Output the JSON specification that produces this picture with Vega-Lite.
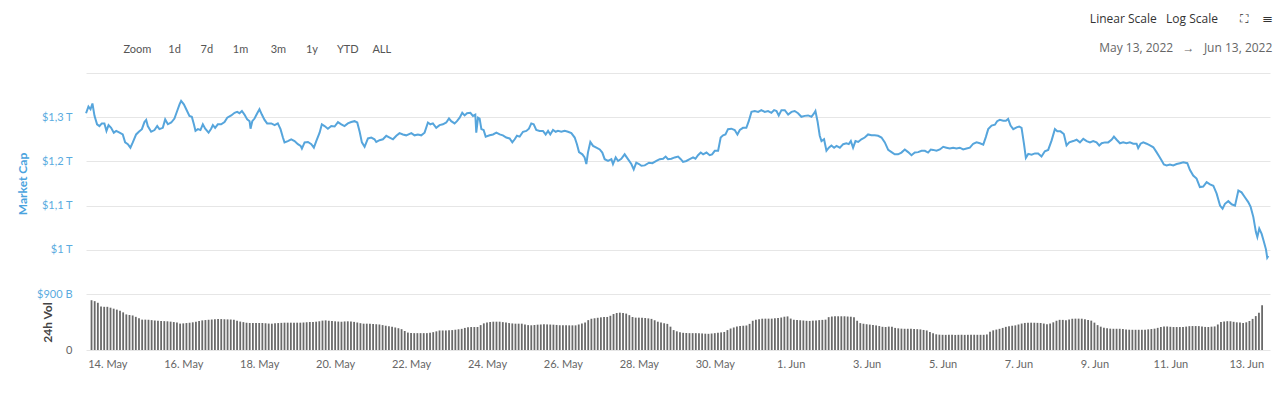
{
"$schema": "https://vega.github.io/schema/vega-lite/v6.json",
"background": "white",
"padding": {"left": 16, "top": 13, "right": 8, "bottom": 5},
"spacing": 0,
"bounds": "flush",
"title": {"text": "Linear Scale\u00a0\u00a0\u00a0Log Scale\u00a0\u00a0\u00a0\u00a0\u00a0\u00a0\u00a0⛶\u00a0\u00a0\u00a0\u00a0\u00a0☰", "subtitle": "May 13, 2022\u00a0\u00a0\u00a0→\u00a0\u00a0\u00a0Jun 13, 2022\u00a0\u00a0", "anchor": "end", "font": "Open Sans", "subtitleFont": "Open Sans", "fontSize": 12, "fontWeight": "normal", "color": "#333333", "subtitleColor": "#666666", "subtitleFontSize": 12, "subtitlePadding": 17, "offset": -12},
"datasets": {
"mc": [
{"t":"2022-05-13T13:42","v":1309},{"t":"2022-05-13T15:12","v":1324},{"t":"2022-05-13T16:30","v":1318},{"t":"2022-05-13T17:42","v":1331},{"t":"2022-05-13T19:00","v":1303},{"t":"2022-05-13T20:36","v":1284},{"t":"2022-05-13T22:06","v":1280},{"t":"2022-05-13T23:36","v":1286},
{"t":"2022-05-14T01:12","v":1286},{"t":"2022-05-14T02:30","v":1269},{"t":"2022-05-14T03:48","v":1282},{"t":"2022-05-14T05:24","v":1276},{"t":"2022-05-14T07:06","v":1265},{"t":"2022-05-14T08:36","v":1269},{"t":"2022-05-14T10:42","v":1265},{"t":"2022-05-14T12:42","v":1261},{"t":"2022-05-14T14:12","v":1243},{"t":"2022-05-14T15:54","v":1239},{"t":"2022-05-14T17:30","v":1231},{"t":"2022-05-14T19:00","v":1243},{"t":"2022-05-14T21:06","v":1261},{"t":"2022-05-14T22:48","v":1267},
{"t":"2022-05-15T00:42","v":1273},{"t":"2022-05-15T02:18","v":1289},{"t":"2022-05-15T03:24","v":1294},{"t":"2022-05-15T04:24","v":1280},{"t":"2022-05-15T06:30","v":1267},{"t":"2022-05-15T08:36","v":1271},{"t":"2022-05-15T10:18","v":1280},{"t":"2022-05-15T11:42","v":1273},{"t":"2022-05-15T13:48","v":1276},{"t":"2022-05-15T15:18","v":1295},{"t":"2022-05-15T17:00","v":1284},{"t":"2022-05-15T19:06","v":1288},{"t":"2022-05-15T21:06","v":1297},{"t":"2022-05-15T22:48","v":1314},
{"t":"2022-05-16T00:18","v":1329},{"t":"2022-05-16T01:18","v":1337},{"t":"2022-05-16T03:00","v":1329},{"t":"2022-05-16T04:30","v":1318},{"t":"2022-05-16T06:30","v":1303},{"t":"2022-05-16T08:00","v":1301},{"t":"2022-05-16T09:18","v":1284},{"t":"2022-05-16T10:18","v":1269},{"t":"2022-05-16T11:48","v":1273},{"t":"2022-05-16T13:24","v":1271},{"t":"2022-05-16T14:54","v":1284},{"t":"2022-05-16T16:24","v":1274},{"t":"2022-05-16T18:30","v":1265},{"t":"2022-05-16T20:06","v":1274},{"t":"2022-05-16T21:12","v":1282},{"t":"2022-05-16T22:36","v":1276},
{"t":"2022-05-17T00:18","v":1284},{"t":"2022-05-17T02:24","v":1284},{"t":"2022-05-17T04:30","v":1289},{"t":"2022-05-17T06:12","v":1299},{"t":"2022-05-17T08:42","v":1304},{"t":"2022-05-17T10:48","v":1310},{"t":"2022-05-17T12:24","v":1312},{"t":"2022-05-17T13:54","v":1309},{"t":"2022-05-17T15:24","v":1314},{"t":"2022-05-17T17:00","v":1306},{"t":"2022-05-17T18:42","v":1295},{"t":"2022-05-17T20:12","v":1291},{"t":"2022-05-17T20:48","v":1274},{"t":"2022-05-17T21:54","v":1291},{"t":"2022-05-17T23:18","v":1297},
{"t":"2022-05-18T01:00","v":1309},{"t":"2022-05-18T02:24","v":1318},{"t":"2022-05-18T03:54","v":1306},{"t":"2022-05-18T05:36","v":1294},{"t":"2022-05-18T07:12","v":1286},{"t":"2022-05-18T09:48","v":1286},{"t":"2022-05-18T11:54","v":1282},{"t":"2022-05-18T13:54","v":1286},{"t":"2022-05-18T15:36","v":1273},{"t":"2022-05-18T17:06","v":1254},{"t":"2022-05-18T18:06","v":1243},{"t":"2022-05-18T20:12","v":1246},{"t":"2022-05-18T22:18","v":1250},
{"t":"2022-05-19T00:24","v":1246},{"t":"2022-05-19T02:30","v":1239},{"t":"2022-05-19T04:12","v":1235},{"t":"2022-05-19T05:00","v":1229},{"t":"2022-05-19T06:42","v":1243},{"t":"2022-05-19T08:48","v":1244},{"t":"2022-05-19T10:54","v":1239},{"t":"2022-05-19T12:30","v":1231},{"t":"2022-05-19T14:00","v":1246},{"t":"2022-05-19T16:06","v":1265},{"t":"2022-05-19T17:30","v":1284},{"t":"2022-05-19T19:12","v":1280},{"t":"2022-05-19T21:18","v":1274},{"t":"2022-05-19T23:24","v":1280},
{"t":"2022-05-20T01:30","v":1279},{"t":"2022-05-20T03:36","v":1289},{"t":"2022-05-20T05:42","v":1284},{"t":"2022-05-20T07:42","v":1280},{"t":"2022-05-20T09:48","v":1286},{"t":"2022-05-20T11:54","v":1289},{"t":"2022-05-20T14:00","v":1291},{"t":"2022-05-20T15:42","v":1288},{"t":"2022-05-20T17:12","v":1267},{"t":"2022-05-20T18:36","v":1243},{"t":"2022-05-20T20:18","v":1233},{"t":"2022-05-20T22:24","v":1252},
{"t":"2022-05-21T00:30","v":1254},{"t":"2022-05-21T02:30","v":1250},{"t":"2022-05-21T03:36","v":1244},{"t":"2022-05-21T05:42","v":1248},{"t":"2022-05-21T07:48","v":1250},{"t":"2022-05-21T09:54","v":1258},{"t":"2022-05-21T12:00","v":1254},{"t":"2022-05-21T14:06","v":1250},{"t":"2022-05-21T16:12","v":1258},{"t":"2022-05-21T18:12","v":1264},{"t":"2022-05-21T20:18","v":1261},{"t":"2022-05-21T22:24","v":1259},
{"t":"2022-05-22T01:36","v":1264},{"t":"2022-05-22T03:36","v":1259},{"t":"2022-05-22T05:42","v":1261},{"t":"2022-05-22T07:48","v":1259},{"t":"2022-05-22T09:54","v":1265},{"t":"2022-05-22T12:00","v":1288},{"t":"2022-05-22T13:30","v":1284},{"t":"2022-05-22T15:06","v":1286},{"t":"2022-05-22T17:12","v":1276},{"t":"2022-05-22T19:18","v":1282},{"t":"2022-05-22T21:24","v":1284},{"t":"2022-05-22T23:30","v":1288},
{"t":"2022-05-23T01:12","v":1297},{"t":"2022-05-23T02:36","v":1291},{"t":"2022-05-23T04:42","v":1286},{"t":"2022-05-23T06:12","v":1291},{"t":"2022-05-23T07:54","v":1299},{"t":"2022-05-23T09:30","v":1310},{"t":"2022-05-23T11:00","v":1304},{"t":"2022-05-23T12:30","v":1309},{"t":"2022-05-23T14:36","v":1310},{"t":"2022-05-23T16:12","v":1303},{"t":"2022-05-23T17:42","v":1306},{"t":"2022-05-23T18:18","v":1265},{"t":"2022-05-23T19:24","v":1299},{"t":"2022-05-23T20:24","v":1297},{"t":"2022-05-23T21:30","v":1273},{"t":"2022-05-23T22:54","v":1271},
{"t":"2022-05-24T00:12","v":1256},{"t":"2022-05-24T02:42","v":1259},{"t":"2022-05-24T04:48","v":1261},{"t":"2022-05-24T06:54","v":1265},{"t":"2022-05-24T09:00","v":1261},{"t":"2022-05-24T11:00","v":1259},{"t":"2022-05-24T13:06","v":1254},{"t":"2022-05-24T15:12","v":1252},{"t":"2022-05-24T16:54","v":1243},{"t":"2022-05-24T18:24","v":1250},{"t":"2022-05-24T19:48","v":1258},{"t":"2022-05-24T21:30","v":1256},{"t":"2022-05-24T23:36","v":1267},
{"t":"2022-05-25T01:42","v":1269},{"t":"2022-05-25T03:18","v":1274},{"t":"2022-05-25T04:48","v":1286},{"t":"2022-05-25T06:18","v":1284},{"t":"2022-05-25T07:54","v":1271},{"t":"2022-05-25T10:00","v":1269},{"t":"2022-05-25T12:06","v":1269},{"t":"2022-05-25T13:48","v":1261},{"t":"2022-05-25T15:18","v":1269},{"t":"2022-05-25T16:42","v":1261},{"t":"2022-05-25T18:24","v":1271},{"t":"2022-05-25T20:06","v":1267},{"t":"2022-05-25T21:30","v":1269},{"t":"2022-05-25T23:36","v":1267},
{"t":"2022-05-26T01:42","v":1269},{"t":"2022-05-26T03:48","v":1267},{"t":"2022-05-26T05:54","v":1264},{"t":"2022-05-26T08:00","v":1254},{"t":"2022-05-26T09:24","v":1239},{"t":"2022-05-26T10:42","v":1221},{"t":"2022-05-26T12:48","v":1216},{"t":"2022-05-26T14:12","v":1209},{"t":"2022-05-26T15:18","v":1194},{"t":"2022-05-26T16:18","v":1220},{"t":"2022-05-26T17:48","v":1244},{"t":"2022-05-26T19:30","v":1235},{"t":"2022-05-26T21:36","v":1231},{"t":"2022-05-26T23:42","v":1227},
{"t":"2022-05-27T01:18","v":1220},{"t":"2022-05-27T02:48","v":1205},{"t":"2022-05-27T04:54","v":1201},{"t":"2022-05-27T07:00","v":1205},{"t":"2022-05-27T08:00","v":1194},{"t":"2022-05-27T09:42","v":1209},{"t":"2022-05-27T11:12","v":1201},{"t":"2022-05-27T13:12","v":1206},{"t":"2022-05-27T15:18","v":1216},{"t":"2022-05-27T17:24","v":1205},{"t":"2022-05-27T19:30","v":1194},{"t":"2022-05-27T21:00","v":1182},{"t":"2022-05-27T22:36","v":1197},
{"t":"2022-05-28T00:18","v":1194},{"t":"2022-05-28T01:48","v":1190},{"t":"2022-05-28T03:54","v":1191},{"t":"2022-05-28T06:36","v":1197},{"t":"2022-05-28T08:42","v":1196},{"t":"2022-05-28T11:12","v":1201},{"t":"2022-05-28T13:18","v":1205},{"t":"2022-05-28T15:24","v":1206},{"t":"2022-05-28T17:00","v":1211},{"t":"2022-05-28T18:30","v":1205},{"t":"2022-05-28T20:36","v":1206},{"t":"2022-05-28T22:42","v":1209},
{"t":"2022-05-29T00:48","v":1211},{"t":"2022-05-29T02:30","v":1205},{"t":"2022-05-29T03:54","v":1199},{"t":"2022-05-29T06:00","v":1201},{"t":"2022-05-29T08:06","v":1205},{"t":"2022-05-29T10:12","v":1209},{"t":"2022-05-29T11:42","v":1206},{"t":"2022-05-29T13:18","v":1214},{"t":"2022-05-29T15:00","v":1220},{"t":"2022-05-29T16:30","v":1216},{"t":"2022-05-29T18:36","v":1220},{"t":"2022-05-29T20:36","v":1214},{"t":"2022-05-29T22:06","v":1216},{"t":"2022-05-29T23:48","v":1224},
{"t":"2022-05-30T01:54","v":1224},{"t":"2022-05-30T03:30","v":1254},{"t":"2022-05-30T05:00","v":1259},{"t":"2022-05-30T06:30","v":1261},{"t":"2022-05-30T08:06","v":1273},{"t":"2022-05-30T10:12","v":1274},{"t":"2022-05-30T12:18","v":1271},{"t":"2022-05-30T14:00","v":1261},{"t":"2022-05-30T15:30","v":1271},{"t":"2022-05-30T17:30","v":1276},{"t":"2022-05-30T19:36","v":1276},{"t":"2022-05-30T21:06","v":1291},{"t":"2022-05-30T22:48","v":1312},
{"t":"2022-05-31T00:54","v":1314},{"t":"2022-05-31T03:00","v":1312},{"t":"2022-05-31T05:00","v":1316},{"t":"2022-05-31T07:06","v":1312},{"t":"2022-05-31T09:12","v":1314},{"t":"2022-05-31T11:18","v":1310},{"t":"2022-05-31T13:00","v":1316},{"t":"2022-05-31T14:30","v":1314},{"t":"2022-05-31T15:54","v":1304},{"t":"2022-05-31T17:36","v":1316},{"t":"2022-05-31T19:42","v":1316},{"t":"2022-05-31T21:48","v":1306},{"t":"2022-05-31T23:54","v":1312},
{"t":"2022-06-01T01:54","v":1314},{"t":"2022-06-01T04:00","v":1309},{"t":"2022-06-01T06:06","v":1301},{"t":"2022-06-01T08:12","v":1303},{"t":"2022-06-01T10:18","v":1304},{"t":"2022-06-01T12:24","v":1301},{"t":"2022-06-01T14:06","v":1309},{"t":"2022-06-01T14:54","v":1314},{"t":"2022-06-01T16:12","v":1291},{"t":"2022-06-01T17:36","v":1258},{"t":"2022-06-01T18:42","v":1246},{"t":"2022-06-01T20:18","v":1250},{"t":"2022-06-01T21:48","v":1224},{"t":"2022-06-01T23:18","v":1231},
{"t":"2022-06-02T00:54","v":1236},{"t":"2022-06-02T02:36","v":1231},{"t":"2022-06-02T04:06","v":1235},{"t":"2022-06-02T06:12","v":1231},{"t":"2022-06-02T08:18","v":1239},{"t":"2022-06-02T10:18","v":1241},{"t":"2022-06-02T11:48","v":1239},{"t":"2022-06-02T13:06","v":1246},{"t":"2022-06-02T14:30","v":1231},{"t":"2022-06-02T16:00","v":1246},{"t":"2022-06-02T17:42","v":1244},{"t":"2022-06-02T19:42","v":1250},{"t":"2022-06-02T21:48","v":1254},{"t":"2022-06-02T23:54","v":1261},
{"t":"2022-06-03T02:00","v":1259},{"t":"2022-06-03T04:06","v":1259},{"t":"2022-06-03T06:12","v":1258},{"t":"2022-06-03T08:18","v":1254},{"t":"2022-06-03T10:24","v":1243},{"t":"2022-06-03T12:30","v":1226},{"t":"2022-06-03T14:36","v":1221},{"t":"2022-06-03T16:36","v":1216},{"t":"2022-06-03T18:42","v":1216},{"t":"2022-06-03T20:48","v":1220},{"t":"2022-06-03T22:54","v":1227},
{"t":"2022-06-04T01:00","v":1221},{"t":"2022-06-04T03:06","v":1214},{"t":"2022-06-04T05:12","v":1220},{"t":"2022-06-04T07:18","v":1221},{"t":"2022-06-04T09:24","v":1224},{"t":"2022-06-04T11:30","v":1224},{"t":"2022-06-04T13:30","v":1220},{"t":"2022-06-04T15:12","v":1227},{"t":"2022-06-04T16:42","v":1226},{"t":"2022-06-04T18:48","v":1224},{"t":"2022-06-04T20:54","v":1227},{"t":"2022-06-04T23:00","v":1233},
{"t":"2022-06-05T01:00","v":1231},{"t":"2022-06-05T03:06","v":1229},{"t":"2022-06-05T05:12","v":1231},{"t":"2022-06-05T07:18","v":1229},{"t":"2022-06-05T09:24","v":1231},{"t":"2022-06-05T11:30","v":1227},{"t":"2022-06-05T13:36","v":1229},{"t":"2022-06-05T15:42","v":1231},{"t":"2022-06-05T17:48","v":1240},{"t":"2022-06-05T19:54","v":1243},{"t":"2022-06-05T22:00","v":1241},
{"t":"2022-06-06T00:06","v":1238},{"t":"2022-06-06T01:42","v":1255},{"t":"2022-06-06T03:12","v":1273},{"t":"2022-06-06T05:18","v":1281},{"t":"2022-06-06T07:24","v":1283},{"t":"2022-06-06T08:48","v":1291},{"t":"2022-06-06T10:30","v":1294},{"t":"2022-06-06T12:36","v":1292},{"t":"2022-06-06T14:18","v":1292},{"t":"2022-06-06T15:42","v":1296},{"t":"2022-06-06T17:12","v":1281},{"t":"2022-06-06T18:54","v":1273},{"t":"2022-06-06T21:00","v":1277},{"t":"2022-06-06T22:36","v":1279},
{"t":"2022-06-07T00:06","v":1276},{"t":"2022-06-07T01:36","v":1240},{"t":"2022-06-07T02:48","v":1208},{"t":"2022-06-07T04:18","v":1217},{"t":"2022-06-07T06:24","v":1215},{"t":"2022-06-07T08:30","v":1218},{"t":"2022-06-07T10:30","v":1218},{"t":"2022-06-07T12:36","v":1211},{"t":"2022-06-07T14:42","v":1223},{"t":"2022-06-07T16:48","v":1226},{"t":"2022-06-07T18:54","v":1247},{"t":"2022-06-07T21:00","v":1273},{"t":"2022-06-07T22:30","v":1268},
{"t":"2022-06-08T00:30","v":1268},{"t":"2022-06-08T02:36","v":1262},{"t":"2022-06-08T04:18","v":1236},{"t":"2022-06-08T06:00","v":1243},{"t":"2022-06-08T08:30","v":1246},{"t":"2022-06-08T10:36","v":1249},{"t":"2022-06-08T12:42","v":1243},{"t":"2022-06-08T14:48","v":1251},{"t":"2022-06-08T16:54","v":1246},{"t":"2022-06-08T19:00","v":1243},{"t":"2022-06-08T21:00","v":1246},{"t":"2022-06-08T23:06","v":1243},
{"t":"2022-06-09T00:48","v":1236},{"t":"2022-06-09T02:18","v":1241},{"t":"2022-06-09T04:24","v":1243},{"t":"2022-06-09T06:24","v":1243},{"t":"2022-06-09T08:30","v":1249},{"t":"2022-06-09T10:00","v":1256},{"t":"2022-06-09T11:42","v":1249},{"t":"2022-06-09T13:48","v":1241},{"t":"2022-06-09T15:48","v":1243},{"t":"2022-06-09T17:54","v":1241},{"t":"2022-06-09T20:00","v":1243},{"t":"2022-06-09T22:06","v":1240},
{"t":"2022-06-10T00:12","v":1240},{"t":"2022-06-10T01:12","v":1230},{"t":"2022-06-10T02:42","v":1240},{"t":"2022-06-10T04:24","v":1243},{"t":"2022-06-10T06:30","v":1240},{"t":"2022-06-10T08:36","v":1236},{"t":"2022-06-10T10:42","v":1232},{"t":"2022-06-10T12:42","v":1221},{"t":"2022-06-10T14:24","v":1211},{"t":"2022-06-10T15:54","v":1202},{"t":"2022-06-10T17:18","v":1193},{"t":"2022-06-10T19:00","v":1191},{"t":"2022-06-10T21:06","v":1193},{"t":"2022-06-10T23:12","v":1191},
{"t":"2022-06-11T01:18","v":1194},{"t":"2022-06-11T03:24","v":1196},{"t":"2022-06-11T05:30","v":1198},{"t":"2022-06-11T08:00","v":1196},{"t":"2022-06-11T09:36","v":1181},{"t":"2022-06-11T11:42","v":1168},{"t":"2022-06-11T13:48","v":1161},{"t":"2022-06-11T15:54","v":1142},{"t":"2022-06-11T18:00","v":1143},{"t":"2022-06-11T20:06","v":1153},{"t":"2022-06-11T22:12","v":1148},
{"t":"2022-06-12T00:18","v":1145},{"t":"2022-06-12T02:24","v":1127},{"t":"2022-06-12T04:30","v":1100},{"t":"2022-06-12T06:06","v":1093},{"t":"2022-06-12T07:36","v":1104},{"t":"2022-06-12T09:42","v":1110},{"t":"2022-06-12T11:48","v":1103},{"t":"2022-06-12T13:54","v":1100},{"t":"2022-06-12T16:00","v":1134},{"t":"2022-06-12T18:00","v":1130},{"t":"2022-06-12T20:06","v":1119},{"t":"2022-06-12T22:12","v":1108},{"t":"2022-06-12T23:42","v":1097},
{"t":"2022-06-13T01:24","v":1074},{"t":"2022-06-13T03:00","v":1040},{"t":"2022-06-13T03:54","v":1029},{"t":"2022-06-13T05:06","v":1048},{"t":"2022-06-13T06:36","v":1036},{"t":"2022-06-13T08:00","v":1018},{"t":"2022-06-13T09:18","v":1001},{"t":"2022-06-13T10:06","v":982},{"t":"2022-06-13T10:48","v":986}
],
"vol": [
{"t":"2022-05-13T14:00","v":800},{"t":"2022-05-13T16:00","v":785},{"t":"2022-05-13T18:00","v":759},{"t":"2022-05-13T20:00","v":700},{"t":"2022-05-13T22:00","v":694},
{"t":"2022-05-14T00:00","v":694},{"t":"2022-05-14T02:00","v":680},{"t":"2022-05-14T04:00","v":664},{"t":"2022-05-14T06:00","v":649},{"t":"2022-05-14T08:00","v":630},{"t":"2022-05-14T10:00","v":605},{"t":"2022-05-14T12:00","v":572},{"t":"2022-05-14T14:00","v":563},{"t":"2022-05-14T16:00","v":555},{"t":"2022-05-14T18:00","v":533},{"t":"2022-05-14T20:00","v":510},{"t":"2022-05-14T22:00","v":488},
{"t":"2022-05-15T00:00","v":488},{"t":"2022-05-15T02:00","v":486},{"t":"2022-05-15T04:00","v":480},{"t":"2022-05-15T06:00","v":474},{"t":"2022-05-15T08:00","v":470},{"t":"2022-05-15T10:00","v":466},{"t":"2022-05-15T12:00","v":464},{"t":"2022-05-15T14:00","v":461},{"t":"2022-05-15T16:00","v":456},{"t":"2022-05-15T18:00","v":449},{"t":"2022-05-15T20:00","v":440},{"t":"2022-05-15T22:00","v":424},
{"t":"2022-05-16T00:00","v":428},{"t":"2022-05-16T02:00","v":433},{"t":"2022-05-16T04:00","v":438},{"t":"2022-05-16T06:00","v":445},{"t":"2022-05-16T08:00","v":453},{"t":"2022-05-16T10:00","v":465},{"t":"2022-05-16T12:00","v":476},{"t":"2022-05-16T14:00","v":481},{"t":"2022-05-16T16:00","v":486},{"t":"2022-05-16T18:00","v":490},{"t":"2022-05-16T20:00","v":495},{"t":"2022-05-16T22:00","v":499},
{"t":"2022-05-17T00:00","v":497},{"t":"2022-05-17T02:00","v":494},{"t":"2022-05-17T04:00","v":492},{"t":"2022-05-17T06:00","v":490},{"t":"2022-05-17T08:00","v":486},{"t":"2022-05-17T10:00","v":470},{"t":"2022-05-17T12:00","v":457},{"t":"2022-05-17T14:00","v":448},{"t":"2022-05-17T16:00","v":438},{"t":"2022-05-17T18:00","v":434},{"t":"2022-05-17T20:00","v":434},{"t":"2022-05-17T22:00","v":434},
{"t":"2022-05-18T00:00","v":434},{"t":"2022-05-18T02:00","v":434},{"t":"2022-05-18T04:00","v":430},{"t":"2022-05-18T06:00","v":425},{"t":"2022-05-18T08:00","v":423},{"t":"2022-05-18T10:00","v":428},{"t":"2022-05-18T12:00","v":433},{"t":"2022-05-18T14:00","v":436},{"t":"2022-05-18T16:00","v":439},{"t":"2022-05-18T18:00","v":439},{"t":"2022-05-18T20:00","v":439},{"t":"2022-05-18T22:00","v":439},
{"t":"2022-05-19T00:00","v":439},{"t":"2022-05-19T02:00","v":439},{"t":"2022-05-19T04:00","v":442},{"t":"2022-05-19T06:00","v":446},{"t":"2022-05-19T08:00","v":450},{"t":"2022-05-19T10:00","v":452},{"t":"2022-05-19T12:00","v":455},{"t":"2022-05-19T14:00","v":462},{"t":"2022-05-19T16:00","v":472},{"t":"2022-05-19T18:00","v":476},{"t":"2022-05-19T20:00","v":470},{"t":"2022-05-19T22:00","v":466},
{"t":"2022-05-20T00:00","v":461},{"t":"2022-05-20T02:00","v":457},{"t":"2022-05-20T04:00","v":456},{"t":"2022-05-20T06:00","v":459},{"t":"2022-05-20T08:00","v":461},{"t":"2022-05-20T10:00","v":457},{"t":"2022-05-20T12:00","v":452},{"t":"2022-05-20T14:00","v":442},{"t":"2022-05-20T16:00","v":431},{"t":"2022-05-20T18:00","v":423},{"t":"2022-05-20T20:00","v":423},{"t":"2022-05-20T22:00","v":423},
{"t":"2022-05-21T00:00","v":418},{"t":"2022-05-21T02:00","v":414},{"t":"2022-05-21T04:00","v":410},{"t":"2022-05-21T06:00","v":400},{"t":"2022-05-21T08:00","v":390},{"t":"2022-05-21T10:00","v":381},{"t":"2022-05-21T12:00","v":372},{"t":"2022-05-21T14:00","v":362},{"t":"2022-05-21T16:00","v":350},{"t":"2022-05-21T18:00","v":335},{"t":"2022-05-21T20:00","v":305},{"t":"2022-05-21T22:00","v":280},
{"t":"2022-05-22T00:00","v":272},{"t":"2022-05-22T02:00","v":271},{"t":"2022-05-22T04:00","v":271},{"t":"2022-05-22T06:00","v":271},{"t":"2022-05-22T08:00","v":271},{"t":"2022-05-22T10:00","v":271},{"t":"2022-05-22T12:00","v":278},{"t":"2022-05-22T14:00","v":287},{"t":"2022-05-22T16:00","v":300},{"t":"2022-05-22T18:00","v":314},{"t":"2022-05-22T20:00","v":314},{"t":"2022-05-22T22:00","v":314},
{"t":"2022-05-23T00:00","v":316},{"t":"2022-05-23T02:00","v":320},{"t":"2022-05-23T04:00","v":326},{"t":"2022-05-23T06:00","v":333},{"t":"2022-05-23T08:00","v":340},{"t":"2022-05-23T10:00","v":355},{"t":"2022-05-23T12:00","v":367},{"t":"2022-05-23T14:00","v":369},{"t":"2022-05-23T16:00","v":369},{"t":"2022-05-23T18:00","v":370},{"t":"2022-05-23T20:00","v":400},{"t":"2022-05-23T22:00","v":428},
{"t":"2022-05-24T00:00","v":440},{"t":"2022-05-24T02:00","v":450},{"t":"2022-05-24T04:00","v":455},{"t":"2022-05-24T06:00","v":455},{"t":"2022-05-24T08:00","v":455},{"t":"2022-05-24T10:00","v":448},{"t":"2022-05-24T12:00","v":440},{"t":"2022-05-24T14:00","v":432},{"t":"2022-05-24T16:00","v":427},{"t":"2022-05-24T18:00","v":423},{"t":"2022-05-24T20:00","v":423},{"t":"2022-05-24T22:00","v":423},
{"t":"2022-05-25T00:00","v":410},{"t":"2022-05-25T02:00","v":400},{"t":"2022-05-25T04:00","v":397},{"t":"2022-05-25T06:00","v":402},{"t":"2022-05-25T08:00","v":407},{"t":"2022-05-25T10:00","v":410},{"t":"2022-05-25T12:00","v":412},{"t":"2022-05-25T14:00","v":411},{"t":"2022-05-25T16:00","v":409},{"t":"2022-05-25T18:00","v":407},{"t":"2022-05-25T20:00","v":403},{"t":"2022-05-25T22:00","v":398},
{"t":"2022-05-26T00:00","v":396},{"t":"2022-05-26T02:00","v":396},{"t":"2022-05-26T04:00","v":396},{"t":"2022-05-26T06:00","v":396},{"t":"2022-05-26T08:00","v":396},{"t":"2022-05-26T10:00","v":410},{"t":"2022-05-26T12:00","v":425},{"t":"2022-05-26T14:00","v":440},{"t":"2022-05-26T16:00","v":480},{"t":"2022-05-26T18:00","v":502},{"t":"2022-05-26T20:00","v":510},{"t":"2022-05-26T22:00","v":518},
{"t":"2022-05-27T00:00","v":525},{"t":"2022-05-27T02:00","v":530},{"t":"2022-05-27T04:00","v":531},{"t":"2022-05-27T06:00","v":550},{"t":"2022-05-27T08:00","v":578},{"t":"2022-05-27T10:00","v":595},{"t":"2022-05-27T12:00","v":600},{"t":"2022-05-27T14:00","v":594},{"t":"2022-05-27T16:00","v":585},{"t":"2022-05-27T18:00","v":560},{"t":"2022-05-27T20:00","v":530},{"t":"2022-05-27T22:00","v":520},
{"t":"2022-05-28T00:00","v":520},{"t":"2022-05-28T02:00","v":520},{"t":"2022-05-28T04:00","v":514},{"t":"2022-05-28T06:00","v":508},{"t":"2022-05-28T08:00","v":500},{"t":"2022-05-28T10:00","v":478},{"t":"2022-05-28T12:00","v":455},{"t":"2022-05-28T14:00","v":440},{"t":"2022-05-28T16:00","v":430},{"t":"2022-05-28T18:00","v":420},{"t":"2022-05-28T20:00","v":375},{"t":"2022-05-28T22:00","v":320},
{"t":"2022-05-29T00:00","v":300},{"t":"2022-05-29T02:00","v":287},{"t":"2022-05-29T04:00","v":276},{"t":"2022-05-29T06:00","v":273},{"t":"2022-05-29T08:00","v":271},{"t":"2022-05-29T10:00","v":271},{"t":"2022-05-29T12:00","v":271},{"t":"2022-05-29T14:00","v":271},{"t":"2022-05-29T16:00","v":266},{"t":"2022-05-29T18:00","v":262},{"t":"2022-05-29T20:00","v":260},{"t":"2022-05-29T22:00","v":265},
{"t":"2022-05-30T00:00","v":271},{"t":"2022-05-30T02:00","v":277},{"t":"2022-05-30T04:00","v":283},{"t":"2022-05-30T06:00","v":290},{"t":"2022-05-30T08:00","v":320},{"t":"2022-05-30T10:00","v":345},{"t":"2022-05-30T12:00","v":362},{"t":"2022-05-30T14:00","v":378},{"t":"2022-05-30T16:00","v":385},{"t":"2022-05-30T18:00","v":390},{"t":"2022-05-30T20:00","v":394},{"t":"2022-05-30T22:00","v":420},
{"t":"2022-05-31T00:00","v":470},{"t":"2022-05-31T02:00","v":488},{"t":"2022-05-31T04:00","v":496},{"t":"2022-05-31T06:00","v":503},{"t":"2022-05-31T08:00","v":504},{"t":"2022-05-31T10:00","v":504},{"t":"2022-05-31T12:00","v":504},{"t":"2022-05-31T14:00","v":510},{"t":"2022-05-31T16:00","v":516},{"t":"2022-05-31T18:00","v":522},{"t":"2022-05-31T20:00","v":535},{"t":"2022-05-31T22:00","v":540},
{"t":"2022-06-01T00:00","v":505},{"t":"2022-06-01T02:00","v":486},{"t":"2022-06-01T04:00","v":482},{"t":"2022-06-01T06:00","v":478},{"t":"2022-06-01T08:00","v":474},{"t":"2022-06-01T10:00","v":469},{"t":"2022-06-01T12:00","v":467},{"t":"2022-06-01T14:00","v":472},{"t":"2022-06-01T16:00","v":476},{"t":"2022-06-01T18:00","v":480},{"t":"2022-06-01T20:00","v":484},{"t":"2022-06-01T22:00","v":488},
{"t":"2022-06-02T00:00","v":528},{"t":"2022-06-02T02:00","v":538},{"t":"2022-06-02T04:00","v":542},{"t":"2022-06-02T06:00","v":542},{"t":"2022-06-02T08:00","v":542},{"t":"2022-06-02T10:00","v":542},{"t":"2022-06-02T12:00","v":538},{"t":"2022-06-02T14:00","v":535},{"t":"2022-06-02T16:00","v":528},{"t":"2022-06-02T18:00","v":470},{"t":"2022-06-02T20:00","v":432},{"t":"2022-06-02T22:00","v":422},
{"t":"2022-06-03T00:00","v":414},{"t":"2022-06-03T02:00","v":408},{"t":"2022-06-03T04:00","v":401},{"t":"2022-06-03T06:00","v":395},{"t":"2022-06-03T08:00","v":385},{"t":"2022-06-03T10:00","v":373},{"t":"2022-06-03T12:00","v":370},{"t":"2022-06-03T14:00","v":376},{"t":"2022-06-03T16:00","v":375},{"t":"2022-06-03T18:00","v":355},{"t":"2022-06-03T20:00","v":348},{"t":"2022-06-03T22:00","v":343},
{"t":"2022-06-04T00:00","v":341},{"t":"2022-06-04T02:00","v":341},{"t":"2022-06-04T04:00","v":341},{"t":"2022-06-04T06:00","v":339},{"t":"2022-06-04T08:00","v":335},{"t":"2022-06-04T10:00","v":331},{"t":"2022-06-04T12:00","v":322},{"t":"2022-06-04T14:00","v":314},{"t":"2022-06-04T16:00","v":290},{"t":"2022-06-04T18:00","v":268},{"t":"2022-06-04T20:00","v":252},{"t":"2022-06-04T22:00","v":246},
{"t":"2022-06-05T00:00","v":244},{"t":"2022-06-05T02:00","v":243},{"t":"2022-06-05T04:00","v":245},{"t":"2022-06-05T06:00","v":244},{"t":"2022-06-05T08:00","v":242},{"t":"2022-06-05T10:00","v":244},{"t":"2022-06-05T12:00","v":245},{"t":"2022-06-05T14:00","v":243},{"t":"2022-06-05T16:00","v":244},{"t":"2022-06-05T18:00","v":244},{"t":"2022-06-05T20:00","v":245},{"t":"2022-06-05T22:00","v":244},
{"t":"2022-06-06T00:00","v":244},{"t":"2022-06-06T02:00","v":244},{"t":"2022-06-06T04:00","v":250},{"t":"2022-06-06T06:00","v":295},{"t":"2022-06-06T08:00","v":316},{"t":"2022-06-06T10:00","v":328},{"t":"2022-06-06T12:00","v":340},{"t":"2022-06-06T14:00","v":355},{"t":"2022-06-06T16:00","v":372},{"t":"2022-06-06T18:00","v":382},{"t":"2022-06-06T20:00","v":390},{"t":"2022-06-06T22:00","v":396},
{"t":"2022-06-07T00:00","v":410},{"t":"2022-06-07T02:00","v":425},{"t":"2022-06-07T04:00","v":435},{"t":"2022-06-07T06:00","v":437},{"t":"2022-06-07T08:00","v":439},{"t":"2022-06-07T10:00","v":438},{"t":"2022-06-07T12:00","v":436},{"t":"2022-06-07T14:00","v":434},{"t":"2022-06-07T16:00","v":425},{"t":"2022-06-07T18:00","v":415},{"t":"2022-06-07T20:00","v":425},{"t":"2022-06-07T22:00","v":445},
{"t":"2022-06-08T00:00","v":470},{"t":"2022-06-08T02:00","v":485},{"t":"2022-06-08T04:00","v":484},{"t":"2022-06-08T06:00","v":478},{"t":"2022-06-08T08:00","v":490},{"t":"2022-06-08T10:00","v":502},{"t":"2022-06-08T12:00","v":504},{"t":"2022-06-08T14:00","v":504},{"t":"2022-06-08T16:00","v":503},{"t":"2022-06-08T18:00","v":494},{"t":"2022-06-08T20:00","v":484},{"t":"2022-06-08T22:00","v":472},
{"t":"2022-06-09T00:00","v":440},{"t":"2022-06-09T02:00","v":400},{"t":"2022-06-09T04:00","v":375},{"t":"2022-06-09T06:00","v":358},{"t":"2022-06-09T08:00","v":348},{"t":"2022-06-09T10:00","v":343},{"t":"2022-06-09T12:00","v":341},{"t":"2022-06-09T14:00","v":341},{"t":"2022-06-09T16:00","v":341},{"t":"2022-06-09T18:00","v":337},{"t":"2022-06-09T20:00","v":331},{"t":"2022-06-09T22:00","v":326},
{"t":"2022-06-10T00:00","v":325},{"t":"2022-06-10T02:00","v":325},{"t":"2022-06-10T04:00","v":325},{"t":"2022-06-10T06:00","v":325},{"t":"2022-06-10T08:00","v":326},{"t":"2022-06-10T10:00","v":332},{"t":"2022-06-10T12:00","v":337},{"t":"2022-06-10T14:00","v":343},{"t":"2022-06-10T16:00","v":356},{"t":"2022-06-10T18:00","v":370},{"t":"2022-06-10T20:00","v":376},{"t":"2022-06-10T22:00","v":378},
{"t":"2022-06-11T00:00","v":373},{"t":"2022-06-11T02:00","v":369},{"t":"2022-06-11T04:00","v":369},{"t":"2022-06-11T06:00","v":369},{"t":"2022-06-11T08:00","v":371},{"t":"2022-06-11T10:00","v":376},{"t":"2022-06-11T12:00","v":383},{"t":"2022-06-11T14:00","v":385},{"t":"2022-06-11T16:00","v":385},{"t":"2022-06-11T18:00","v":384},{"t":"2022-06-11T20:00","v":378},{"t":"2022-06-11T22:00","v":371},
{"t":"2022-06-12T00:00","v":370},{"t":"2022-06-12T02:00","v":375},{"t":"2022-06-12T04:00","v":379},{"t":"2022-06-12T06:00","v":410},{"t":"2022-06-12T08:00","v":450},{"t":"2022-06-12T10:00","v":458},{"t":"2022-06-12T12:00","v":463},{"t":"2022-06-12T14:00","v":462},{"t":"2022-06-12T16:00","v":453},{"t":"2022-06-12T18:00","v":445},{"t":"2022-06-12T20:00","v":440},{"t":"2022-06-12T22:00","v":434},
{"t":"2022-06-13T00:00","v":445},{"t":"2022-06-13T02:00","v":466},{"t":"2022-06-13T04:00","v":500},{"t":"2022-06-13T06:00","v":545},{"t":"2022-06-13T08:00","v":600},{"t":"2022-06-13T10:00","v":721}
]
},
"config": {
  "view": {"stroke": null},
  "axis": {"labelFont": "Lato", "titleFont": "Lato", "labelFontSize": 11, "titleFontSize": 11, "gridColor": "#e6e6e6", "gridWidth": 1, "domain": false, "ticks": false, "tickSize": 0}
},
"vconcat": [
{
  "width": 1184, "height": 221,
  "data": {"name": "mc"},
  "mark": {"type": "line", "color": "#56a5dc", "strokeWidth": 2},
  "encoding": {
    "x": {"field": "t", "type": "temporal",
      "scale": {"domain": [{"year":2022,"month":5,"date":13,"hours":13,"minutes":40},{"year":2022,"month":6,"date":13,"hours":11,"minutes":50}]},
      "axis": {"orient": "top", "labels": false, "grid": false, "title": "Zoom\u00a0\u00a0\u00a0\u00a0\u00a0\u00a01d\u00a0\u00a0\u00a0\u00a0\u00a0\u00a0\u00a07d\u00a0\u00a0\u00a0\u00a0\u00a0\u00a0\u00a01m\u00a0\u00a0\u00a0\u00a0\u00a0\u00a0\u00a0\u00a03m\u00a0\u00a0\u00a0\u00a0\u00a0\u00a0\u00a01y\u00a0\u00a0\u00a0\u00a0\u00a0\u00a0\u00a0YTD\u00a0\u00a0\u00a0\u00a0\u00a0ALL", "titleAnchor": "start", "titleAlign": "left", "titleBaseline": "middle", "titleX": 37, "titleY": -24, "titleColor": "#555555", "titleFontWeight": "normal", "titleFontSize": 11}},
    "y": {"field": "v", "type": "quantitative",
      "scale": {"domain": [900, 1400], "zero": false, "nice": false},
      "axis": {"values": [1000, 1100, 1200, 1300, 1400], "labelExpr": "datum.value == 1000 ? '$1 T' : datum.value == 1100 ? '$1,1 T' : datum.value == 1200 ? '$1,2 T' : datum.value == 1300 ? '$1,3 T' : ''", "labelColor": "#5aabe0", "labelPadding": 14, "title": "Market Cap", "titleColor": "#4aa3de", "titleFontWeight": "bold", "titleFontSize": 12, "titleAngle": 270, "titleBaseline": "middle", "titleX": -64}}
  }
},
{
  "width": 1184, "height": 56,
  "data": {"name": "vol"},
  "mark": {"type": "bar", "color": "#6a6a6a", "size": 1.8},
  "encoding": {
    "x": {"field": "t", "type": "temporal",
      "scale": {"domain": [{"year":2022,"month":5,"date":13,"hours":13,"minutes":40},{"year":2022,"month":6,"date":13,"hours":11,"minutes":50}]},
      "axis": {"values": [{"year":2022,"month":5,"date":14},{"year":2022,"month":5,"date":16},{"year":2022,"month":5,"date":18},{"year":2022,"month":5,"date":20},{"year":2022,"month":5,"date":22},{"year":2022,"month":5,"date":24},{"year":2022,"month":5,"date":26},{"year":2022,"month":5,"date":28},{"year":2022,"month":5,"date":30},{"year":2022,"month":6,"date":1},{"year":2022,"month":6,"date":3},{"year":2022,"month":6,"date":5},{"year":2022,"month":6,"date":7},{"year":2022,"month":6,"date":9},{"year":2022,"month":6,"date":11},{"year":2022,"month":6,"date":13}], "format": "%-d. %b", "labelColor": "#666666", "labelPadding": 8, "grid": false, "title": null}},
    "y": {"field": "v", "type": "quantitative",
      "scale": {"domain": [0, 900], "nice": false},
      "axis": {"values": [0, 900], "labelExpr": "datum.value == 0 ? '0' : '$900 B'", "labelColor": {"condition": {"test": "datum.value == 0", "value": "#666666"}, "value": "#5aabe0"}, "labelPadding": 14, "title": "24h Vol", "titleColor": "#444444", "titleFontWeight": "bold", "titleAngle": 270, "titleBaseline": "middle", "titleX": -39, "titleFontSize": 12}}
  }
}
]
}
